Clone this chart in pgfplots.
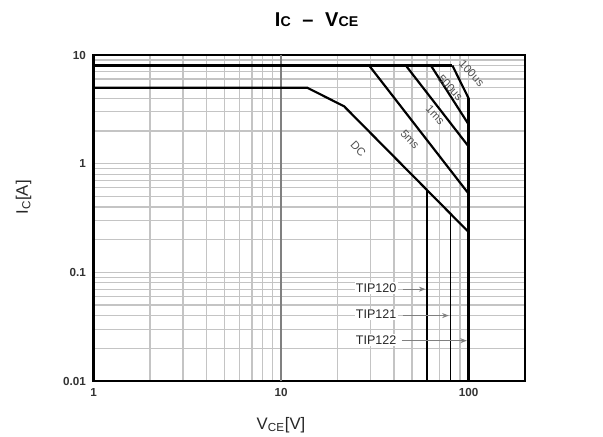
\documentclass[border=0pt]{standalone}
\usepackage{pgfplots}
\pgfplotsset{compat=1.18}
\usetikzlibrary{arrows.meta}
\usepackage{fontspec}
\setmainfont{Liberation Sans}
\definecolor{gridgray}{HTML}{C4C4C4}
\definecolor{txtgray}{HTML}{505050}
\begin{document}
\begin{tikzpicture}[x=1pt,y=1pt]
\useasboundingbox (0,0) rectangle (361.8,262.2);
\begin{axis}[
  at={(56.1pt,33.6pt)}, anchor=south west,
  width=258.9pt, height=195.6pt, scale only axis,
  xmode=log, ymode=log,
  xmin=1, xmax=200, ymin=0.01, ymax=10,
  xtick={1,10,100}, xticklabels={\textbf{1},\textbf{10},\textbf{100}},
  ytick={0.01,0.1,1,10}, yticklabels={\textbf{0.01},\textbf{0.1},\textbf{1},\textbf{10}},
  minor xtick={2,3,4,5,6,7,8,9,20,30,40,50,60,70,80,90,200},
  minor ytick={0.02,0.03,0.04,0.05,0.06,0.07,0.08,0.09,0.2,0.3,0.4,0.5,0.6,0.7,0.8,0.9,2,3,4,5,6,7,8,9},
  grid=both,
  major grid style={draw=gridgray, line width=0.75pt},
  minor grid style={draw=gridgray, line width=0.75pt},
  major tick length=0pt, minor tick length=0pt,
  axis line style={line width=1.3pt},
  tick label style={font=\fontsize{7}{8}\selectfont, text=black!80},
  xticklabel style={yshift=-1pt},
  yticklabel style={xshift=-1pt},
  xlabel={V\textsubscript{CE}[V]},
  ylabel={I\textsubscript{C}[A]},
  label style={font=\fontsize{10}{12}\selectfont, text=black!85},
  xlabel style={at={(axis description cs:0.4345,0)}, anchor=center, yshift=-26.4pt},
  ylabel style={at={(axis description cs:-0.162,0.563)}, anchor=center},
  title={I{\fontsize{8.5}{9}\selectfont C}\hspace{7pt}--\hspace{7pt}V{\fontsize{8.5}{9}\selectfont CE}},
  title style={at={(axis description cs:0.517,1)}, anchor=center, yshift=15pt, font=\fontsize{12}{14}\selectfont\bfseries},
  clip=false,
]
% darker grid line at 10 V
\addplot[draw=gray, line width=1.1pt] coordinates {(10,0.01) (10,10)};
% limits
\addplot[black, line width=1.3pt] coordinates {(1,8) (82,8)};
\addplot[black, line width=1.3pt] coordinates {(1,5) (13.8,5) (21.7,3.37) (100,0.235)};
\addplot[black, line width=1.3pt] coordinates {(29.5,8) (100,0.53)};
\addplot[black, line width=1.3pt] coordinates {(46.3,8) (100,1.44)};
\addplot[black, line width=1.3pt] coordinates {(63,8) (100,2.3)};
\addplot[black, line width=1.3pt] coordinates {(82,8) (100,4)};
\addplot[black, line width=1.3pt] coordinates {(100,4) (100,0.01)};
\addplot[black, line width=1.0pt] coordinates {(60,0.56) (60,0.01)};
\addplot[black, line width=0.8pt] coordinates {(80,0.34) (80,0.01)};
% arrows
\addplot[draw=gray, line width=0.8pt, -{Stealth[length=4pt,width=3pt]}] coordinates {(44.5,0.07) (59,0.07)};
\addplot[draw=gray, line width=0.8pt, -{Stealth[length=4pt,width=3pt]}] coordinates {(44.5,0.040) (78.5,0.040)};
\addplot[draw=gray, line width=0.8pt, -{Stealth[length=4pt,width=3pt]}] coordinates {(44,0.0235) (98,0.0235)};
% labels
\begin{scope}[every node/.style={font=\fontsize{6.8}{8}\selectfont, text=txtgray, inner sep=0pt, rotate=-47}]
\node at (axis cs:104,6.8) {100us};
\node at (axis cs:80,5.0) {500us};
\node at (axis cs:66.5,2.8) {1ms};
\node at (axis cs:48.7,1.67) {5ms};
\node at (axis cs:25.8,1.36) {DC};
\end{scope}
\begin{scope}[every node/.style={font=\fontsize{7.5}{9}\selectfont, text=black!85, fill=white, inner sep=0.8pt, anchor=east}]
\node at (axis cs:42,0.072) {TIP120};
\node at (axis cs:42,0.041) {TIP121};
\node at (axis cs:42,0.0238) {TIP122};
\end{scope}
\end{axis}
\end{tikzpicture}
\end{document}
